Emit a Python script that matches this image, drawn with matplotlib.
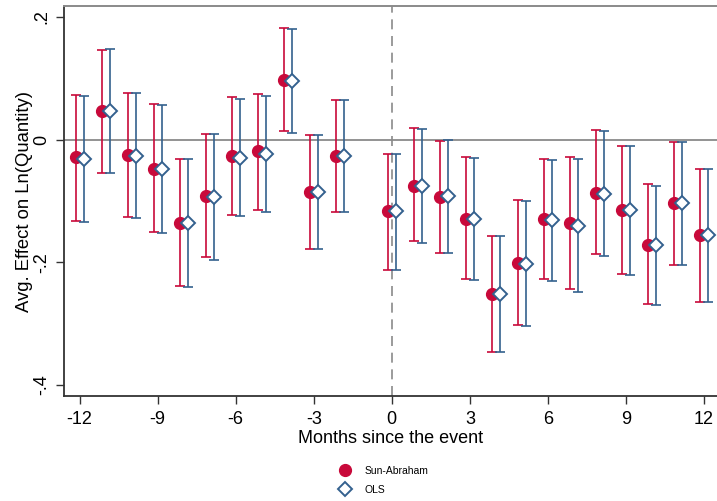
import numpy as np
import matplotlib.pyplot as plt

plt.rcParams["font.family"] = ["Liberation Sans", "DejaVu Sans"]

# -----------------------------
# DATA
# -----------------------------
months = [-12, -11, -10, -9, -8, -7, -6, -5, -4, -3, -2,
          0, 1, 2, 3, 4, 5, 6, 7, 8, 9, 10, 11, 12]

sa_est = [-0.029, 0.046, -0.025, -0.048, -0.136, -0.092, -0.027, -0.019, 0.097, -0.086, -0.027,
          -0.117, -0.075, -0.094, -0.129, -0.251, -0.201, -0.130, -0.136, -0.087, -0.114, -0.171, -0.104, -0.155]
sa_hi = [0.073, 0.147, 0.076, 0.058, -0.032, 0.009, 0.069, 0.075, 0.182, 0.007, 0.064,
         -0.024, 0.019, -0.002, -0.029, -0.157, -0.099, -0.031, -0.029, 0.016, -0.010, -0.073, -0.004, -0.048]
sa_lo = [-0.133, -0.055, -0.126, -0.151, -0.239, -0.192, -0.123, -0.114, 0.014, -0.178, -0.118,
         -0.212, -0.166, -0.185, -0.228, -0.346, -0.303, -0.228, -0.244, -0.187, -0.219, -0.268, -0.205, -0.264]

ols_est = [-0.031, 0.046, -0.026, -0.048, -0.136, -0.094, -0.030, -0.023, 0.095, -0.086, -0.026,
           -0.117, -0.076, -0.092, -0.130, -0.251, -0.203, -0.131, -0.140, -0.088, -0.114, -0.172, -0.104, -0.156]
ols_hi = [0.072, 0.148, 0.076, 0.057, -0.032, 0.009, 0.066, 0.072, 0.180, 0.007, 0.065,
          -0.023, 0.017, 0.000, -0.030, -0.157, -0.100, -0.033, -0.032, 0.014, -0.010, -0.075, -0.004, -0.048]
ols_lo = [-0.134, -0.055, -0.127, -0.152, -0.241, -0.196, -0.125, -0.118, 0.011, -0.178, -0.118,
          -0.212, -0.169, -0.185, -0.229, -0.346, -0.304, -0.230, -0.248, -0.190, -0.220, -0.269, -0.205, -0.264]

x_ticks = [-12, -9, -6, -3, 0, 3, 6, 9, 12]
y_ticks = [0.2, 0.0, -0.2, -0.4]
y_ticklabels = [".2", "0", "-.2", "-.4"]

RED = "#C8093A"
BLUE = "#34618E"
OFFSET = 0.15

# -----------------------------
# PLOT
# -----------------------------
fig = plt.figure(figsize=(7.17, 5.01), dpi=100)
ax = fig.add_axes([64 / 717, 105 / 501, 1 - 64 / 717, 390 / 501])

m = np.array(months, dtype=float)
sa_est_a, ols_est_a = np.array(sa_est), np.array(ols_est)
sa_err = [sa_est_a - np.array(sa_lo), np.array(sa_hi) - sa_est_a]
ols_err = [ols_est_a - np.array(ols_lo), np.array(ols_hi) - ols_est_a]

ax.axhline(0, color="#8a8a8a", lw=1.3, zorder=1)
ax.axvline(0, color="#8a8a8a", lw=1.2, ls=(0, (6, 4)), zorder=1)

ax.errorbar(m - OFFSET, sa_est, yerr=sa_err, fmt="none", ecolor=RED,
            elinewidth=1.2, capsize=3.5, capthick=1.2, zorder=2)
ax.errorbar(m + OFFSET, ols_est, yerr=ols_err, fmt="none", ecolor=BLUE,
            elinewidth=1.2, capsize=3.5, capthick=1.2, zorder=2)
ax.plot(m - OFFSET, sa_est, "o", color=RED, ms=8.5, ls="none",
        label="Sun-Abraham", zorder=3)
ax.plot(m + OFFSET, ols_est, "D", mfc="white", mec=BLUE, mew=1.4, ms=7.5,
        ls="none", label="OLS", zorder=4)

ax.set_xlim(-12.6, 12.5)
ax.set_ylim(-0.418, 0.218)
ax.set_xticks(x_ticks)
ax.set_xticklabels([str(t) for t in x_ticks])
ax.set_yticks(y_ticks)
ax.set_yticklabels(y_ticklabels, rotation=90, va="center")
ax.tick_params(axis="both", labelsize=13, length=6, width=1, color="#333333")
ax.tick_params(axis="x", pad=5)
ax.tick_params(axis="y", pad=4)

ax.spines["right"].set_visible(False)
ax.spines["top"].set_color("#8a8a8a")
ax.spines["top"].set_linewidth(1.4)
for s in ["left", "bottom"]:
    ax.spines[s].set_color("#333333")
    ax.spines[s].set_linewidth(1.3)

ax.set_xlabel("Months since the event", fontsize=13, labelpad=1)
ax.set_ylabel("Avg. Effect on Ln(Quantity)", fontsize=13.3, labelpad=0)

fig.legend(loc="center", bbox_to_anchor=(0.535, 0.041), frameon=False,
           fontsize=7.5, handletextpad=1.2, labelspacing=0.85, handlelength=1.2)

fig.savefig("out.png", dpi=100)
